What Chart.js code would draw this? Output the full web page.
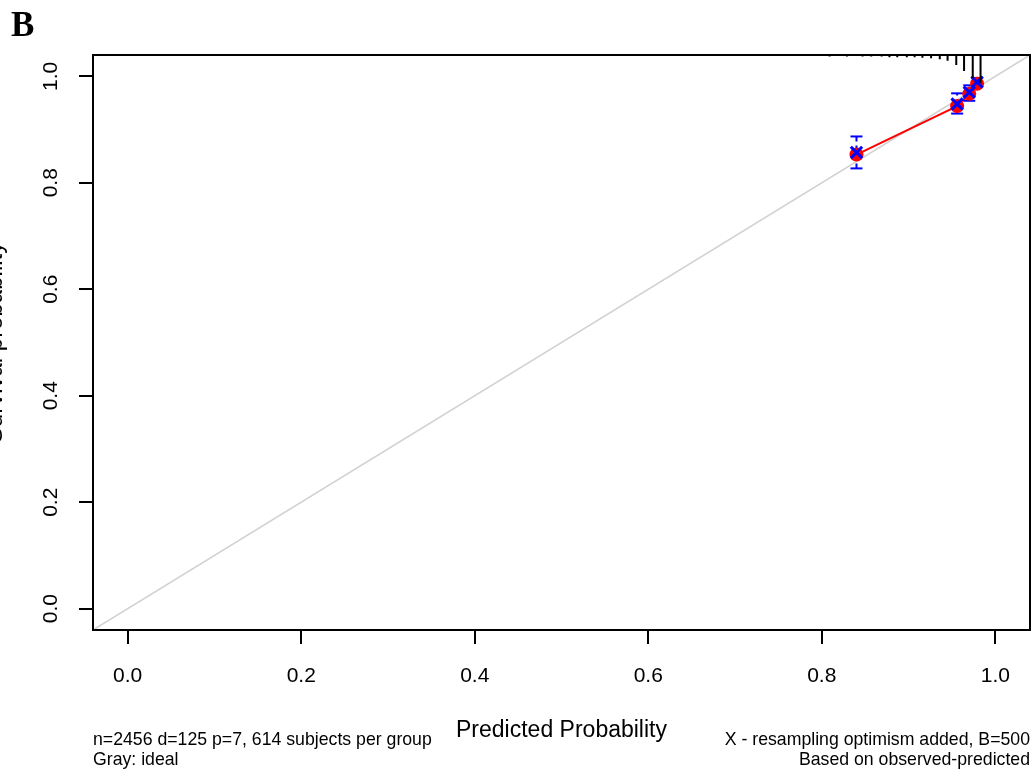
<!DOCTYPE html>
<html>
<head>
<meta charset="utf-8">
<script src="https://cdn.jsdelivr.net/npm/chart.js@4/dist/chart.umd.min.js"></script>
<style>
  html, body { margin: 0; padding: 0; background: #fff; }
  canvas { display: block; }
</style>
</head>
<body>
<canvas id="calib" width="1036" height="773"></canvas>
<script>
// axis ticks and limits
const xTicks = [0, 0.2, 0.4, 0.6, 0.8, 1.0];
const yTicks = [0, 0.2, 0.4, 0.6, 0.8, 1.0];
const axisLimits = [-0.04, 1.04];

// calibration groups
const predicted = [0.840, 0.956, 0.970, 0.979];
const observed = [0.853, 0.944, 0.967, 0.986];
const corrected = [0.857, 0.948, 0.970, 0.989];
const lowerCI = [0.827, 0.930, 0.954, 0.981];
const upperCI = [0.887, 0.968, 0.983, 0.997];

// distribution of predicted risk (spikes on top)
const rugX = [0.613, 0.663, 0.709, 0.743, 0.766, 0.789, 0.809, 0.829, 0.847, 0.857, 0.869, 0.878,
              0.887, 0.898, 0.907, 0.916, 0.926, 0.936, 0.945, 0.955, 0.964, 0.974, 0.983];
const rugLen = [0.002, 0.002, 0.002, 0.002, 0.002, 0.002, 0.003, 0.003, 0.003, 0.003, 0.003, 0.004,
                0.004, 0.004, 0.004, 0.005, 0.006, 0.008, 0.011, 0.019, 0.030, 0.043, 0.053];

const xTitle = 'Predicted Probability';
const yTitle = 'Survival probability';
const noteLeft = ['n=2456 d=125 p=7, 614 subjects per group', 'Gray: ideal'];
const noteRight = ['X - resampling optimism added, B=500', 'Based on observed-predicted'];
const panelTag = 'B';

document.addEventListener('DOMContentLoaded', function() {
    const FONT = '"Liberation Sans", Arial, Helvetica, sans-serif';

    // build segment lists separated by gaps
    const rugData = [];
    rugX.forEach(function(x, i) {
        rugData.push({x: x, y: axisLimits[1]});
        rugData.push({x: x, y: axisLimits[1] - rugLen[i]});
        rugData.push({x: x, y: null});
    });
    const errData = [];
    const capData = [];
    predicted.forEach(function(x, i) {
        errData.push({x: x, y: lowerCI[i]});
        errData.push({x: x, y: upperCI[i]});
        errData.push({x: x, y: null});
        capData.push({x: x, y: lowerCI[i]});
        capData.push({x: x, y: upperCI[i]});
    });
    const obsData = predicted.map(function(x, i) { return {x: x, y: observed[i]}; });
    const corData = predicted.map(function(x, i) { return {x: x, y: corrected[i]}; });

    const extras = {
        id: 'extras',
        afterDraw(chart) {
            const ctx = chart.ctx;
            const a = chart.chartArea;
            ctx.save();
            // box around plot
            ctx.strokeStyle = '#000';
            ctx.lineWidth = 2;
            ctx.strokeRect(a.left, a.top, a.right - a.left, a.bottom - a.top);

            // panel letter
            ctx.fillStyle = '#000';
            ctx.font = 'bold 35px "Liberation Serif", "DejaVu Serif", serif';
            ctx.textAlign = 'left';
            ctx.textBaseline = 'alphabetic';
            ctx.fillText(panelTag, 11, 36);

            // y title (mostly cut off at left edge, as in the source)
            ctx.save();
            ctx.translate(2, (a.top + a.bottom) / 2);
            ctx.rotate(-Math.PI / 2);
            ctx.font = '24px ' + FONT;
            ctx.textAlign = 'center';
            ctx.textBaseline = 'alphabetic';
            ctx.fillText(yTitle, 0, 0);
            ctx.restore();

            // footnotes
            ctx.font = '17.7px ' + FONT;
            ctx.textAlign = 'left';
            ctx.fillText(noteLeft[0], a.left, 745);
            ctx.fillText(noteLeft[1], a.left, 765);
            ctx.textAlign = 'right';
            ctx.fillText(noteRight[0], a.right, 745);
            ctx.fillText(noteRight[1], a.right, 765);
            ctx.restore();
        }
    };

    const config = {
        type: 'scatter',
        data: {
            datasets: [
                {
                    label: 'ideal',
                    data: [{x: axisLimits[0], y: axisLimits[0]}, {x: axisLimits[1], y: axisLimits[1]}],
                    showLine: true,
                    borderColor: '#d2d2d2',
                    borderWidth: 1.5,
                    pointRadius: 0,
                    order: 10
                },
                {
                    label: 'observed line',
                    data: obsData,
                    showLine: true,
                    borderColor: '#ff0000',
                    borderWidth: 2,
                    pointRadius: 0,
                    order: 8
                },
                {
                    label: 'ci',
                    data: errData,
                    showLine: true,
                    spanGaps: false,
                    borderColor: '#0000ff',
                    borderWidth: 2,
                    borderDash: [5, 4],
                    pointRadius: 0,
                    order: 6
                },
                {
                    label: 'caps',
                    data: capData,
                    pointStyle: 'line',
                    pointRadius: 6,
                    borderColor: '#0000ff',
                    borderWidth: 2,
                    order: 5
                },
                {
                    label: 'observed',
                    data: obsData,
                    pointStyle: 'circle',
                    pointRadius: 7,
                    backgroundColor: '#ff0000',
                    borderColor: '#ff0000',
                    borderWidth: 0,
                    order: 4
                },
                {
                    label: 'corrected',
                    data: corData,
                    pointStyle: 'crossRot',
                    pointRadius: 8,
                    borderColor: '#0000ff',
                    borderWidth: 3,
                    order: 3
                },
                {
                    label: 'risk distribution',
                    data: rugData,
                    showLine: true,
                    spanGaps: false,
                    borderColor: '#000',
                    borderWidth: 2,
                    pointRadius: 0,
                    order: 2
                }
            ]
        },
        options: {
            responsive: false,
            animation: false,
            events: [],
            layout: {
                autoPadding: false,
                padding: {top: 55, right: 6, left: 0, bottom: 0}
            },
            plugins: {
                legend: {display: false},
                tooltip: {enabled: false}
            },
            scales: {
                x: {
                    type: 'linear',
                    min: axisLimits[0],
                    max: axisLimits[1],
                    afterBuildTicks: function(scale) {
                        scale.ticks = xTicks.map(function(v) { return {value: v}; });
                    },
                    afterFit: function(scale) {
                        scale.height = 143;
                        scale.paddingLeft = 0;
                        scale.paddingRight = 0;
                    },
                    border: {display: false},
                    grid: {
                        drawOnChartArea: false,
                        drawTicks: true,
                        tickLength: 14,
                        color: '#000',
                        lineWidth: 2
                    },
                    ticks: {
                        color: '#000',
                        font: {family: FONT, size: 21},
                        padding: 20,
                        maxRotation: 0,
                        callback: function(v) { return Number(v).toFixed(1); }
                    },
                    title: {
                        display: true,
                        text: xTitle,
                        color: '#000',
                        font: {family: FONT, size: 23},
                        padding: {top: 0, bottom: 29}
                    }
                },
                y: {
                    type: 'linear',
                    min: axisLimits[0],
                    max: axisLimits[1],
                    afterBuildTicks: function(scale) {
                        scale.ticks = yTicks.map(function(v) { return {value: v}; });
                    },
                    afterFit: function(scale) {
                        scale.width = 93;
                        scale.paddingTop = 0;
                        scale.paddingBottom = 0;
                    },
                    border: {display: false},
                    grid: {
                        drawOnChartArea: false,
                        drawTicks: true,
                        tickLength: 14,
                        color: '#000',
                        lineWidth: 2
                    },
                    ticks: {
                        color: '#000',
                        font: {family: FONT, size: 21},
                        padding: 13,
                        minRotation: 90,
                        maxRotation: 90,
                        crossAlign: 'center',
                        callback: function(v) { return Number(v).toFixed(1); }
                    }
                }
            }
        },
        plugins: [extras]
    };

    new Chart(document.getElementById('calib').getContext('2d'), config);
});
</script>
</body>
</html>
